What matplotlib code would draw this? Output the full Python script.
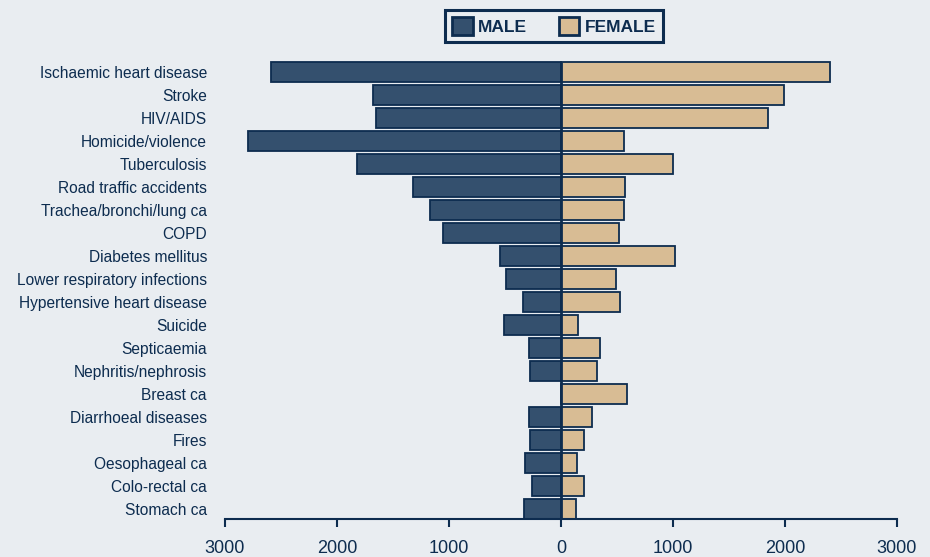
import numpy as np
import matplotlib.pyplot as plt
from matplotlib.patches import Patch

# causes of death, top to bottom
causes = ['Ischaemic heart disease', 'Stroke', 'HIV/AIDS', 'Homicide/violence',
          'Tuberculosis', 'Road traffic accidents', 'Trachea/bronchi/lung ca',
          'COPD', 'Diabetes mellitus', 'Lower respiratory infections',
          'Hypertensive heart disease', 'Suicide', 'Septicaemia',
          'Nephritis/nephrosis', 'Breast ca', 'Diarrhoeal diseases', 'Fires',
          'Oesophageal ca', 'Colo-rectal ca', 'Stomach ca']
male = [2590, 1680, 1650, 2795, 1820, 1320, 1170, 1055, 545, 490,
        340, 510, 285, 278, 0, 286, 278, 325, 262, 330]
female = [2400, 1990, 1848, 563, 1000, 571, 563, 518, 1018, 491,
          527, 152, 348, 321, 590, 277, 205, 143, 205, 134]
ticks = [-3000, -2000, -1000, 0, 1000, 2000, 3000]
tick_labels = ['3000', '2000', '1000', '0', '1000', '2000', '3000']

bg = '#E9EDF1'
male_col = '#34506E'
female_col = '#D8BC94'
edge = '#0D2C4F'

plt.rcParams['font.family'] = ['Liberation Sans', 'DejaVu Sans']

fig = plt.figure(figsize=(9.3, 5.57), dpi=100, facecolor=bg)
ax = fig.add_axes([225 / 930, 1 - 519 / 557, 672 / 930, 464 / 557])
ax.set_facecolor(bg)

y = np.arange(len(causes))
ax.barh(y, -np.array(male), height=0.86, color=male_col, edgecolor=edge, linewidth=1.3)
ax.barh(y, female, height=0.86, color=female_col, edgecolor=edge, linewidth=1.3)

# centre line
ax.plot([0, 0], [-0.45, 19.43], color=edge, linewidth=2, solid_capstyle='butt')

ax.set_xlim(-3000, 3000)
ax.set_ylim(19.43, -0.74)
ax.set_xticks(ticks)
ax.set_xticklabels(tick_labels, fontsize=13, color=edge)
ax.set_yticks(y)
ax.set_yticklabels(causes, fontsize=11.2, color=edge)
ax.tick_params(axis='y', length=0, pad=13)
ax.tick_params(axis='x', length=6, width=1.5, color=edge, pad=9)
for s in ['top', 'left', 'right']:
    ax.spines[s].set_visible(False)
ax.spines['bottom'].set_color(edge)
ax.spines['bottom'].set_linewidth(1.5)

handles = [Patch(facecolor=male_col, edgecolor=edge, linewidth=2, label='MALE'),
           Patch(facecolor=female_col, edgecolor=edge, linewidth=2, label='FEMALE')]
leg = fig.legend(handles=handles, loc='upper center', bbox_to_anchor=(554 / 930, 1 - 10 / 557),
                 ncol=2, frameon=True, fancybox=False, framealpha=1, borderaxespad=0,
                 handlelength=1.2, handleheight=1.2,
                 handletextpad=0.3, columnspacing=1.8, borderpad=0.4,
                 prop={'weight': 'bold', 'size': 12.5})
leg.get_frame().set_edgecolor(edge)
leg.get_frame().set_linewidth(2.2)
leg.get_frame().set_facecolor(bg)
for t in leg.get_texts():
    t.set_color(edge)

fig.savefig('out.png', dpi=100, facecolor=bg)
